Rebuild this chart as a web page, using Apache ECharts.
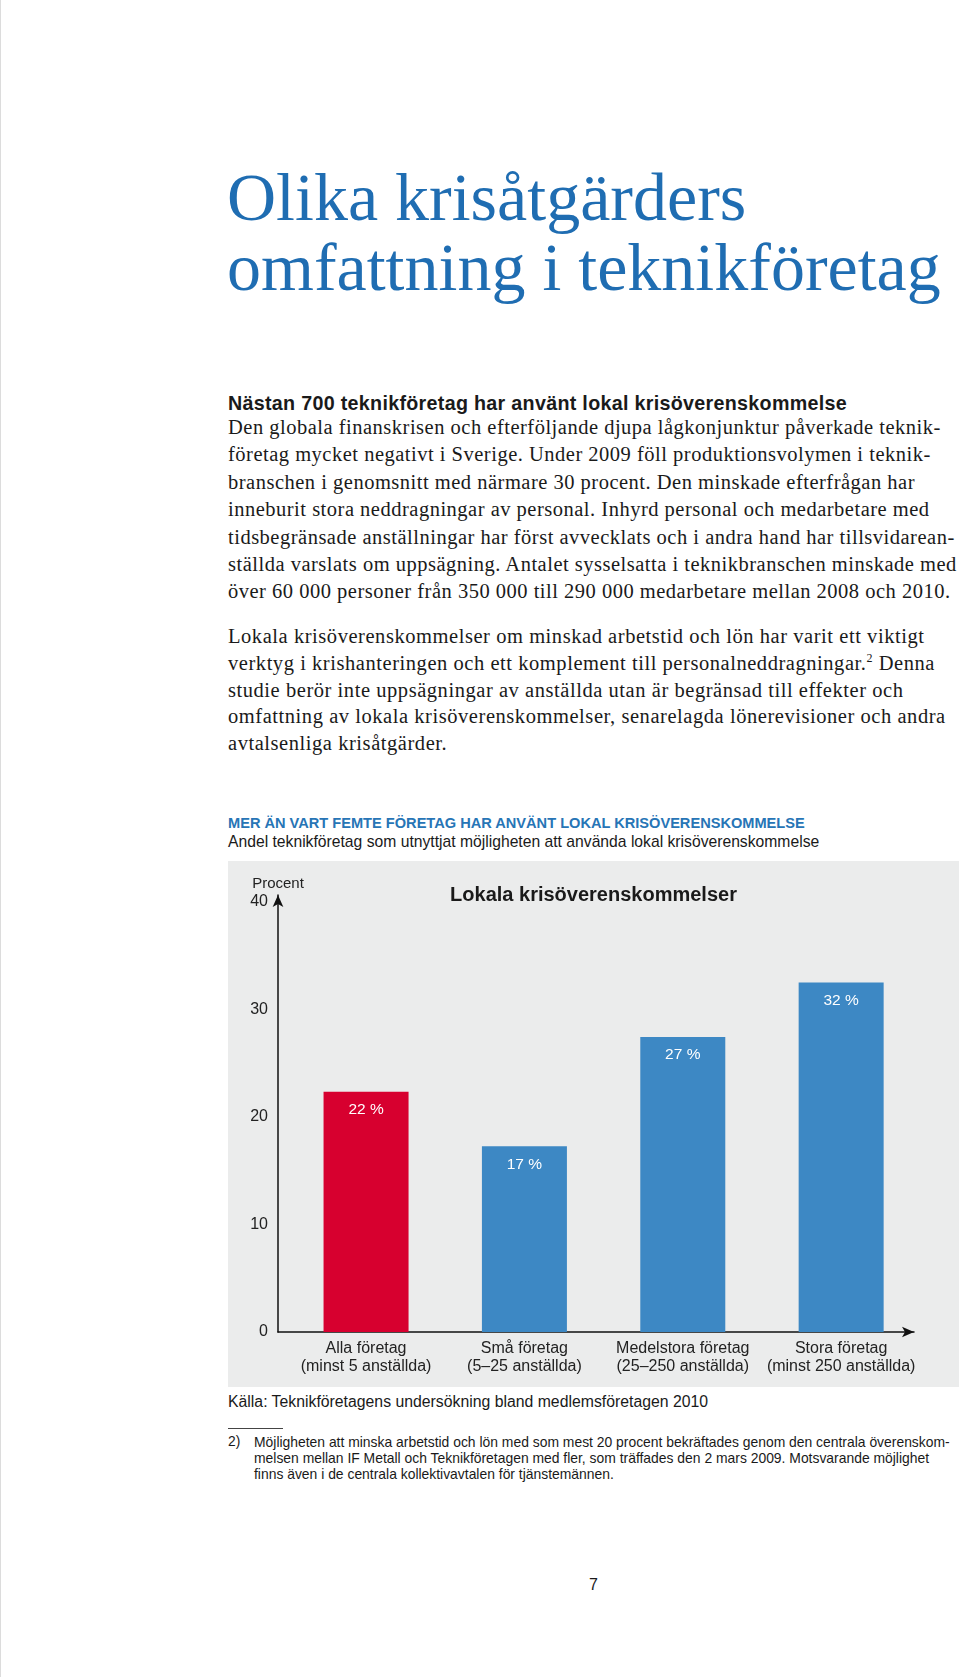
<!DOCTYPE html>
<html lang="sv">
<head>
<meta charset="utf-8">
<script src="https://cdn.jsdelivr.net/npm/echarts@6/dist/echarts.min.js"></script>
<style>
  html, body { margin: 0; padding: 0; background: #fff; }
  #page { position: relative; width: 960px; height: 1677px; overflow: hidden; background: #fff; border-left: 1px solid #dcdcdc; box-sizing: border-box; }
  .abs { position: absolute; white-space: nowrap; }
  .serif { font-family: "Liberation Serif", "DejaVu Serif", serif; color: #1a1a1a; }
  .sans { font-family: "Liberation Sans", Arial, sans-serif; color: #1a1a1a; }
  #title { left: 226px; top: 162px; font-size: 68px; line-height: 70px; color: #1f6db2; }
  #sub { left: 227px; top: 390px; font-size: 19.7px; line-height: 26px; font-weight: bold; letter-spacing: 0.3px; }
  #p1 { left: 227px; top: 414px; font-size: 20.5px; line-height: 27.4px; letter-spacing: 0.5px; }
  #p2 { left: 227px; top: 623px; font-size: 20.5px; line-height: 26.8px; letter-spacing: 0.55px; }
  sup { font-size: 12px; line-height: 0; vertical-align: 8px; }
  #chead { left: 227px; top: 814px; font-size: 14.6px; line-height: 18px; font-weight: bold; color: #2775b6; }
  #csub { left: 227px; top: 833px; font-size: 15.7px; line-height: 18px; }
  #chart { position: absolute; left: 227px; top: 861px; width: 731px; height: 526px; }
  #src { left: 227px; top: 1393px; font-size: 15.8px; line-height: 18px; }
  #rule { position: absolute; left: 227px; top: 1428px; width: 55px; height: 0; border-top: 1px solid #444; }
  #fnum { left: 227px; top: 1434px; font-size: 13.8px; line-height: 16px; }
  #fn { left: 253px; top: 1434px; font-size: 13.9px; line-height: 16px; }
  #pno { left: 588px; top: 1576px; font-size: 16px; line-height: 18px; }
</style>
</head>
<body>
<div id="page">
  <div id="title" class="abs serif">Olika krisåtgärders<br>omfattning i teknikföretag</div>
  <div id="sub" class="abs sans">Nästan 700 teknikföretag har använt lokal krisöverenskommelse</div>
  <div id="p1" class="abs serif">Den globala finanskrisen och efterföljande djupa lågkonjunktur påverkade teknik-<br>företag mycket negativt i Sverige. Under 2009 föll produktionsvolymen i teknik-<br>branschen i genomsnitt med närmare 30 procent. Den minskade efterfrågan har<br>inneburit stora neddragningar av personal. Inhyrd personal och medarbetare med<br>tidsbegränsade anställningar har först avvecklats och i andra hand har tillsvidarean-<br>ställda varslats om uppsägning. Antalet sysselsatta i teknikbranschen minskade med<br>över 60 000 personer från 350 000 till 290 000 medarbetare mellan 2008 och 2010.</div>
  <div id="p2" class="abs serif">Lokala krisöverenskommelser om minskad arbetstid och lön har varit ett viktigt<br>verktyg i krishanteringen och ett komplement till personalneddragningar.<sup>2</sup> Denna<br>studie berör inte uppsägningar av anställda utan är begränsad till effekter och<br>omfattning av lokala krisöverenskommelser, senarelagda lönerevisioner och andra<br>avtalsenliga krisåtgärder.</div>
  <div id="chead" class="abs sans">MER ÄN VART FEMTE FÖRETAG HAR ANVÄNT LOKAL KRISÖVERENSKOMMELSE</div>
  <div id="csub" class="abs sans">Andel teknikföretag som utnyttjat möjligheten att använda lokal krisöverenskommelse</div>
  <div id="chart"></div>
  <div id="src" class="abs sans">Källa: Teknikföretagens undersökning bland medlemsföretagen 2010</div>
  <div id="rule"></div>
  <div id="fnum" class="abs sans">2)</div>
  <div id="fn" class="abs sans">Möjligheten att minska arbetstid och lön med som mest 20 procent bekräftades genom den centrala överenskom-<br>melsen mellan IF Metall och Teknikföretagen med fler, som träffades den 2 mars 2009. Motsvarande möjlighet<br>finns även i de centrala kollektivavtalen för tjänstemännen.</div>
  <div id="pno" class="abs sans">7</div>
</div>
<script>
// ---- data ----
const chartTitle = 'Lokala krisöverenskommelser';
const yAxisName = 'Procent';
const categories = [
  'Alla företag\n(minst 5 anställda)',
  'Små företag\n(5–25 anställda)',
  'Medelstora företag\n(25–250 anställda)',
  'Stora företag\n(minst 250 anställda)'
];
const values = [22, 17, 27, 32];
const barColors = ['#d7002f', '#3d88c4', '#3d88c4', '#3d88c4'];
const yTicks = [0, 10, 20, 30, 40];
const catIndex = [0, 1, 2, 3];

// ---- chart ----
const chart = echarts.init(document.getElementById('chart'), null, { renderer: 'canvas' });
const font = '"Liberation Sans", Arial, sans-serif';
const axisLineStyle = { show: true, onZero: false, symbol: ['none', 'arrow'], symbolSize: [8, 12], lineStyle: { color: '#111', width: 1.5 } };
chart.setOption({
  backgroundColor: '#ebecec',
  animation: false,
  title: {
    text: chartTitle,
    left: 'center',
    top: 24,
    padding: 0,
    textStyle: { fontFamily: font, fontSize: 20, fontWeight: 'bold', color: '#1a1a1a' }
  },
  grid: { left: 50, right: 45, top: 34, bottom: 55, containLabel: false },
  xAxis: {
    type: 'value',
    min: -0.556,
    max: 3.46,
    splitLine: { show: false },
    axisTick: { show: false },
    axisLine: axisLineStyle,
    axisLabel: {
      customValues: catIndex,
      formatter: v => categories[Math.round(v)] || '',
      fontFamily: font, fontSize: 16, lineHeight: 18, color: '#222', margin: 8
    }
  },
  yAxis: [{
    type: 'value',
    min: yTicks[0],
    max: yTicks[yTicks.length - 1],
    interval: 10,
    name: yAxisName,
    nameLocation: 'end',
    nameGap: 4,
    nameTextStyle: { fontFamily: font, fontSize: 15, color: '#222', align: 'center' },
    splitLine: { show: false },
    axisTick: { show: false },
    axisLine: axisLineStyle,
    axisLabel: { show: false }
  }, {
    // tick-label axis, spaced as printed in the source
    type: 'value',
    position: 'left',
    min: yTicks[0],
    max: 40.65,
    interval: 10,
    splitLine: { show: false },
    axisTick: { show: false },
    axisLine: { show: false, onZero: false },
    axisLabel: {
      fontFamily: font, fontSize: 16, color: '#222', margin: 10,
      formatter: v => (yTicks.indexOf(v) >= 0 ? String(v) : '')
    }
  }],
  series: [{
    type: 'bar',
    yAxisIndex: 0,
    barWidth: 85,
    data: values.map((v, i) => ({ value: [catIndex[i], v], itemStyle: { color: barColors[i] } })),
    label: {
      show: true,
      position: 'insideTop',
      distance: 10,
      formatter: p => p.value[1] + ' %',
      fontFamily: font, fontSize: 15.5, color: '#fff'
    }
  }]
});
</script>
</body>
</html>
